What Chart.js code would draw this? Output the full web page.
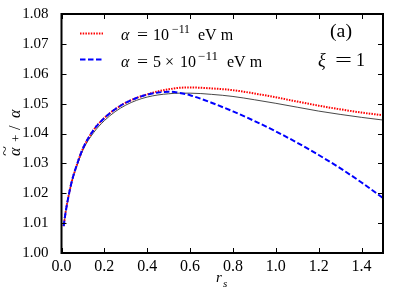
<!DOCTYPE html>
<html>
<head>
<meta charset="utf-8">
<script src="https://cdn.jsdelivr.net/npm/chart.js@4.4.0/dist/chart.umd.min.js"></script>
<style>
  html, body { margin: 0; padding: 0; background: #fff; }
  #wrap { width: 399px; height: 299px; }
</style>
</head>
<body>
<div id="wrap"><canvas id="chart" width="399" height="299"></canvas></div>
<script>
// r_s sample positions
const rs = [0.01, 0.02, 0.035, 0.05, 0.075, 0.1, 0.15, 0.2, 0.25, 0.3, 0.35, 0.4, 0.45,
  0.5, 0.55, 0.6, 0.7, 0.8, 0.9, 1.0, 1.1, 1.2, 1.3, 1.4, 1.5];

// alpha = 1e-11 eV m (red dotted)
const alphaSmall = [1.0090, 1.0140, 1.0198, 1.0245, 1.0302, 1.0350, 1.0412, 1.0452, 1.0481,
  1.0503, 1.0519, 1.0531, 1.0541, 1.0548, 1.0553, 1.0554, 1.0551, 1.0545, 1.0534, 1.0521,
  1.0507, 1.0493, 1.0481, 1.0470, 1.0461];

// alpha = 5e-11 eV m (blue dashed)
const alphaLarge = [1.0090, 1.0140, 1.0198, 1.0245, 1.0302, 1.0350, 1.0412, 1.0452, 1.0481,
  1.0503, 1.0519, 1.0530, 1.0537, 1.0540, 1.0536, 1.0528, 1.0503, 1.0474, 1.0442, 1.0407,
  1.0369, 1.0328, 1.0284, 1.0236, 1.0184];

// thin black reference curve
const reference = [1.0090, 1.0140, 1.0197, 1.0243, 1.0298, 1.0345, 1.0403, 1.0443, 1.0473,
  1.0495, 1.0511, 1.0522, 1.0529, 1.0533, 1.0535, 1.0535, 1.0531, 1.0524, 1.0513, 1.0501,
  1.0488, 1.0475, 1.0464, 1.0454, 1.0445];

const xTicks = [0.0, 0.2, 0.4, 0.6, 0.8, 1.0, 1.2, 1.4];
const yTicks = [1.00, 1.01, 1.02, 1.03, 1.04, 1.05, 1.06, 1.07, 1.08];

const SERIF = '"Liberation Serif", "DejaVu Serif", serif';

function toPoints(values) {
  return values.map((v, i) => ({ x: rs[i], y: v }));
}

// spines + inward ticks on all four sides
const frame = {
  id: "frame",
  afterDatasetsDraw(chart) {
    const { ctx, chartArea: a, scales } = chart;
    ctx.save();
    ctx.strokeStyle = "#000";
    ctx.lineWidth = 1;
    ctx.beginPath();
    xTicks.forEach((t) => {
      const px = Math.round(scales.x.getPixelForValue(t)) + 0.5;
      ctx.moveTo(px, a.bottom); ctx.lineTo(px, a.bottom - 5);
      ctx.moveTo(px, a.top); ctx.lineTo(px, a.top + 5);
    });
    yTicks.forEach((t) => {
      const py = Math.round(scales.y.getPixelForValue(t)) + 0.5;
      ctx.moveTo(a.left, py); ctx.lineTo(a.left + 5, py);
      ctx.moveTo(a.right, py); ctx.lineTo(a.right - 5, py);
    });
    ctx.stroke();
    ctx.lineWidth = 2;
    ctx.strokeRect(a.left, a.top, a.right - a.left, a.bottom - a.top);
    ctx.restore();
  },
};

// text at x,y; optionally stretched horizontally to width w
function put(ctx, txt, x, y, font, w) {
  ctx.font = font;
  if (!w) { ctx.fillText(txt, x, y); return; }
  const m = ctx.measureText(txt).width;
  ctx.save();
  ctx.translate(x, y);
  ctx.scale(w / m, 1);
  ctx.fillText(txt, 0, 0);
  ctx.restore();
}

const annotations = {
  id: "annotations",
  afterDraw(chart) {
    const { ctx } = chart;
    ctx.save();
    ctx.fillStyle = "#000";
    ctx.textBaseline = "alphabetic";
    ctx.textAlign = "left";
    const it = "italic 16px " + SERIF;
    const rm = "16px " + SERIF;
    const sup = "12px " + SERIF;

    // legend samples
    ctx.lineWidth = 2;
    ctx.strokeStyle = "#ff0000";
    ctx.setLineDash([1.5, 1.2]);
    ctx.beginPath(); ctx.moveTo(80, 33.5); ctx.lineTo(103, 33.5); ctx.stroke();
    ctx.strokeStyle = "#0000ff";
    ctx.setLineDash([5.5, 2.5]);
    ctx.beginPath(); ctx.moveTo(80, 59.5); ctx.lineTo(103, 59.5); ctx.stroke();
    ctx.setLineDash([]);

    // legend labels
    put(ctx, "α", 121, 40, it);
    put(ctx, "=", 137, 40, rm, 11);
    put(ctx, "10", 153, 40, rm);
    put(ctx, "−11", 172, 32.5, sup, 18);
    put(ctx, "eV m", 198, 40, rm);

    put(ctx, "α", 121, 66.5, it);
    put(ctx, "=", 137, 66.5, rm, 11);
    put(ctx, "5", 153, 66.5, rm);
    put(ctx, "×", 165, 66.5, rm);
    put(ctx, "10", 180, 66.5, rm);
    put(ctx, "−11", 198, 59.5, sup, 20);
    put(ctx, "eV m", 227, 66.5, rm);

    // panel labels
    put(ctx, "(a)", 330, 37, "19px " + SERIF, 22);
    put(ctx, "ξ", 318, 66, "italic 18px " + SERIF);
    put(ctx, "=", 335, 66, "18px " + SERIF, 17);
    put(ctx, "1", 356, 66, "18px " + SERIF);

    // x title r_s
    put(ctx, "r", 216, 282, "italic 15px " + SERIF);
    put(ctx, "s", 223, 287, "italic 11px " + SERIF);

    // y title (rotated): tilde-alpha_+ / alpha
    ctx.translate(20, 157);
    ctx.rotate(-Math.PI / 2);
    put(ctx, "α", 1, 0, "italic 16px " + SERIF);
    put(ctx, "~", 1, -11, "13px " + SERIF, 10);
    put(ctx, "+", 15, 0, "13px " + SERIF);
    put(ctx, "/", 27, 0, "16px " + SERIF);
    put(ctx, "α", 39, 0, "italic 16px " + SERIF);
    ctx.restore();
  },
};

new Chart(document.getElementById("chart"), {
  type: "line",
  data: {
    datasets: [
      {
        label: "alpha = 5e-11 eV m",
        data: toPoints(alphaLarge),
        borderColor: "#0000ff",
        borderWidth: 2,
        borderDash: [5.5, 2.5],
        pointRadius: 0,
        cubicInterpolationMode: "monotone",
        order: 0,
      },
      {
        label: "alpha = 1e-11 eV m",
        data: toPoints(alphaSmall),
        borderColor: "#ff0000",
        borderWidth: 2,
        borderDash: [1.5, 1.2],
        pointRadius: 0,
        cubicInterpolationMode: "monotone",
        order: 1,
      },
      {
        label: "reference",
        data: toPoints(reference),
        borderColor: "#333333",
        borderWidth: 0.9,
        pointRadius: 0,
        cubicInterpolationMode: "monotone",
        order: 2,
      },
    ],
  },
  options: {
    responsive: false,
    animation: false,
    layout: { padding: { top: 12, right: 16, left: 0, bottom: 0 } },
    plugins: {
      legend: { display: false },
      tooltip: { enabled: false },
    },
    scales: {
      x: {
        type: "linear",
        min: 0,
        max: 1.5,
        afterFit: (s) => { s.height = 46; },
        afterBuildTicks: (s) => { s.ticks = xTicks.map((v) => ({ value: v })); },
        grid: { display: false },
        border: { display: false },
        ticks: {
          color: "#000",
          padding: -4,
          font: { family: SERIF, size: 16 },
          maxRotation: 0,
          callback: (v) => v.toFixed(1),
        },
      },
      y: {
        type: "linear",
        min: 1.0,
        max: 1.08,
        afterFit: (s) => { s.width = 61.5; },
        afterBuildTicks: (s) => { s.ticks = yTicks.map((v) => ({ value: v })); },
        grid: { display: false },
        border: { display: false },
        ticks: {
          color: "#000",
          padding: 5,
          font: { family: SERIF, size: 15 },
          callback: (v) => v.toFixed(2),
        },
      },
    },
  },
  plugins: [frame, annotations],
});
</script>
</body>
</html>
